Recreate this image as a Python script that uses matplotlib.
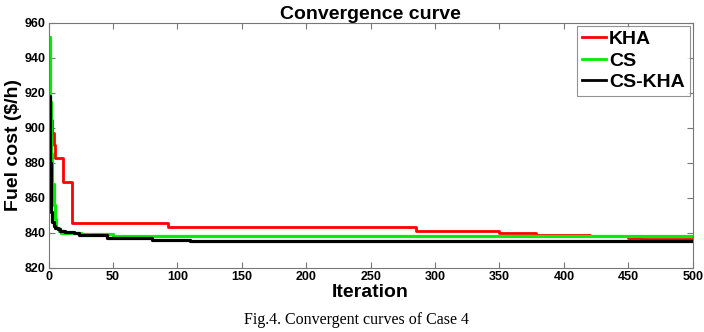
import matplotlib
matplotlib.use('Agg')
import matplotlib.pyplot as plt

plt.rcParams['font.family'] = ['Liberation Sans', 'DejaVu Sans']

# iteration breakpoints and fuel cost values
kha_it = [0, 3, 4, 5, 11, 18, 93, 285, 350, 378, 420, 450, 460, 500]
kha_val = [904.5, 897, 890, 883, 869, 845.5, 843.3, 841.0, 840.0, 839.0, 838.4, 837.3, 836.6, 836.6]

cs_it = [0, 1, 2, 3, 4, 5, 6, 8, 10, 25, 50, 500]
cs_val = [952, 915, 885, 868, 856, 848, 843, 841, 840, 839.2, 838.5, 838.4]

cskha_it = [0, 1, 2, 3, 4, 5, 7, 9, 13, 20, 24, 45, 80, 110, 197, 500]
cskha_val = [918, 880, 852, 846, 844, 843, 842, 841, 840.5, 840, 839, 837.3, 836, 835.6, 835.2, 835.2]

xticks = [0, 50, 100, 150, 200, 250, 300, 350, 400, 450, 500]
yticks = [820, 840, 860, 880, 900, 920, 940, 960]

fig = plt.figure(figsize=(7.04, 3.32), dpi=100)
ax = fig.add_axes([0.069, 0.193, 0.915, 0.738])

ax.plot(kha_it, kha_val, color='#ff0000', lw=2.0, drawstyle='steps-post', label='KHA')
ax.plot(cs_it, cs_val, color='#00ee00', lw=2.3, drawstyle='steps-post', label='CS')
ax.plot(cskha_it, cskha_val, color='black', lw=2.3, drawstyle='steps-post', label='CS-KHA')

ax.set_xlim(0, 500)
ax.set_ylim(820, 960)
ax.set_xticks(xticks)
ax.set_yticks(yticks)
ax.tick_params(direction='in', length=4, top=True, right=True, color='#777777', labelsize=9, pad=2)
for lab in ax.get_xticklabels() + ax.get_yticklabels():
    lab.set_fontweight('bold')
for s in ax.spines.values():
    s.set_color('#777777')
    s.set_linewidth(0.8)

ax.set_title('Convergence curve', fontsize=14, fontweight='bold', pad=3)
ax.set_xlabel('Iteration', fontsize=14, fontweight='bold', labelpad=1)
ax.set_ylabel('Fuel cost ($/h)', fontsize=14, fontweight='bold', labelpad=2)

leg = ax.legend(loc='upper right', prop={'weight': 'bold', 'size': 14},
                handlelength=1.25, handletextpad=0.15, labelspacing=0.2,
                borderpad=0.25, borderaxespad=0.15, fancybox=False, frameon=True)
leg.get_frame().set_edgecolor('#777777')
leg.get_frame().set_linewidth(0.8)
for h in leg.get_lines():
    h.set_linewidth(2.0)

fig.text(0.507, 0.035, 'Fig.4. Convergent curves of Case 4', family='Liberation Serif',
         fontsize=11.5, ha='center', va='center')

fig.savefig('out.png', dpi=100)
